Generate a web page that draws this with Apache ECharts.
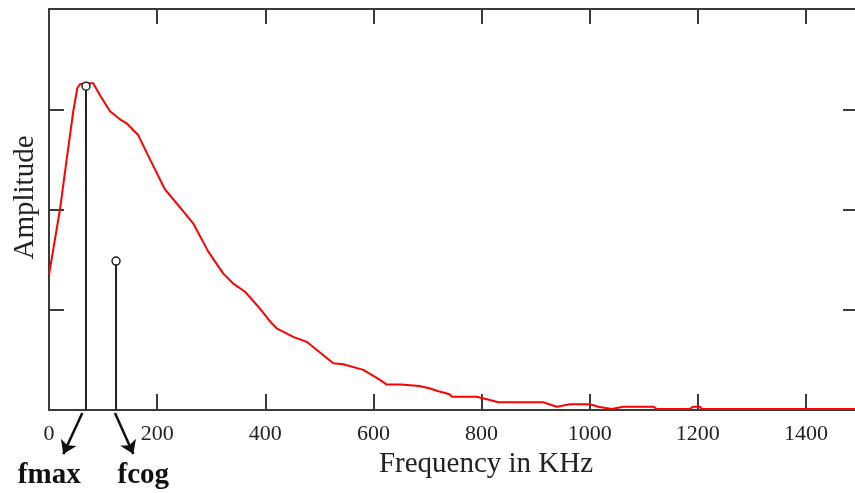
<!DOCTYPE html>
<html>
<head>
<meta charset="utf-8">
<script src="https://cdn.jsdelivr.net/npm/echarts@6/dist/echarts.min.js"></script>
<style>
html,body{margin:0;padding:0;background:#fff;}
#chart{width:855px;height:493px;}
</style>
</head>
<body>
<div id="chart"></div>
<script>
// ---- data ----
var xTicks = [0, 200, 400, 600, 800, 1000, 1200, 1400];
var freq = [0, 20.3, 32.7, 44.9, 52.3, 57.3, 68.4, 81.9, 94.3, 112.8, 131.3, 143.7, 165.2, 186.8, 214.5, 236.2, 266.9, 294.6, 322.4, 340.9, 362.5, 387.1, 411.9, 421.1, 451.8, 476.6, 525.8, 544.3, 581.3, 612.2, 624, 651, 685, 705, 719, 741, 745, 791, 815.6, 831, 914, 939, 963.5, 1000.5, 1016, 1040.7, 1062, 1117.6, 1124, 1185, 1191.6, 1204, 1207, 1500];
var amplitude = [1.35, 2.00, 2.50, 2.98, 3.21, 3.25, 3.26, 3.26, 3.14, 2.98, 2.90, 2.86, 2.74, 2.50, 2.20, 2.06, 1.86, 1.58, 1.36, 1.26, 1.18, 1.03, 0.865, 0.815, 0.73, 0.68, 0.466, 0.456, 0.40, 0.30, 0.255, 0.255, 0.24, 0.215, 0.19, 0.157, 0.133, 0.133, 0.10, 0.077, 0.077, 0.033, 0.057, 0.057, 0.033, 0.01, 0.033, 0.033, 0.01, 0.01, 0.033, 0.033, 0.01, 0.01];
var fmaxStem = [68.4, 3.23];
var fcogStem = [124, 1.486];
var fmaxArrow = [[61.6, -0.03], [26.4, -0.44]];
var fcogArrow = [[122, -0.03], [156, -0.44]];
var markerNames = ['fmax', 'fcog'];

var curveData = freq.map(function (f, i) { return [f, amplitude[i]]; });
function stemData(s) {
  return [{ value: [s[0], 0], symbolSize: 0 }, { value: [s[0], s[1]] }];
}

var axisColor = '#3a3a3a';
var chart = echarts.init(document.getElementById('chart'));
var option = {
  animation: false,
  backgroundColor: '#fff',
  grid: { left: 49, top: 9, width: 811, height: 401, containLabel: false, outerBoundsMode: 'none' },
  xAxis: [{
    type: 'value', min: 0, max: 1500, interval: 200, position: 'bottom',
    axisLine: { show: true, onZero: false, lineStyle: { color: axisColor, width: 2 } },
    axisTick: { show: true, inside: true, length: 16, lineStyle: { color: axisColor, width: 2 }, customValues: xTicks },
    axisLabel: { show: true, customValues: xTicks, margin: 13, color: '#222', fontFamily: 'Liberation Serif', fontSize: 22,
      formatter: function (v) { return String(v); } },
    splitLine: { show: false },
    name: 'Frequency in KHz', nameLocation: 'middle', nameGap: 37,
    nameTextStyle: { color: '#222', fontFamily: 'Liberation Serif', fontSize: 29, padding: [0, 0, 0, 63] }
  }, {
    type: 'value', min: 0, max: 1500, interval: 200, position: 'top',
    axisLine: { show: true, onZero: false, lineStyle: { color: axisColor, width: 2 } },
    axisTick: { show: true, inside: true, length: 15, lineStyle: { color: axisColor, width: 2 }, customValues: xTicks },
    axisLabel: { show: false }, splitLine: { show: false }
  }],
  yAxis: [{
    type: 'value', min: 0, max: 4, interval: 1, position: 'left',
    axisLine: { show: true, onZero: false, lineStyle: { color: axisColor, width: 2 } },
    axisTick: { show: true, inside: true, length: 15, lineStyle: { color: axisColor, width: 2 } },
    axisLabel: { show: false }, splitLine: { show: false },
    name: 'Amplitude', nameLocation: 'middle', nameGap: 9, nameRotate: 90,
    nameTextStyle: { color: '#222', fontFamily: 'Liberation Serif', fontSize: 29, padding: [0, 0, 0, 24] }
  }, {
    type: 'value', min: 0, max: 4, interval: 1, position: 'right',
    axisLine: { show: true, onZero: false, lineStyle: { color: axisColor, width: 2 } },
    axisTick: { show: true, inside: true, length: 17, lineStyle: { color: axisColor, width: 2 } },
    axisLabel: { show: false }, splitLine: { show: false }
  }],
  series: [{
    name: 'Amplitude', type: 'line', data: curveData, symbol: 'none',
    lineStyle: { color: '#ff0000', width: 2 }, z: 3
  }, {
    name: 'fmax', type: 'line', data: stemData(fmaxStem), symbol: 'circle', symbolSize: 8,
    itemStyle: { color: '#fff', borderColor: '#222', borderWidth: 1.5 },
    lineStyle: { color: '#222', width: 2 }, z: 4
  }, {
    name: 'fcog', type: 'line', data: stemData(fcogStem), symbol: 'circle', symbolSize: 8,
    itemStyle: { color: '#fff', borderColor: '#222', borderWidth: 1.5 },
    lineStyle: { color: '#222', width: 2 }, z: 4
  }, {
    name: 'arrows', type: 'lines', coordinateSystem: 'cartesian2d', clip: false,
    symbol: ['none', 'arrow'], symbolSize: 13,
    lineStyle: { color: '#111', width: 2.5, opacity: 1 },
    data: [{ coords: fmaxArrow }, { coords: fcogArrow }], z: 5
  }]
};
chart.setOption(option);

// place the annotation texts just below the arrow tips (derived from arrow data)
var tips = [fmaxArrow[1], fcogArrow[1]];
var shifts = [-14, 10];
var texts = tips.map(function (t, i) {
  var p = chart.convertToPixel({ xAxisIndex: 0, yAxisIndex: 0 }, t);
  return {
    type: 'text', x: p[0] + shifts[i], y: p[1] + 21,
    style: { text: markerNames[i], fill: '#111', font: 'bold 29px "Liberation Serif"', align: 'center', verticalAlign: 'middle' }
  };
});
chart.setOption({ graphic: texts });
</script>
</body>
</html>
